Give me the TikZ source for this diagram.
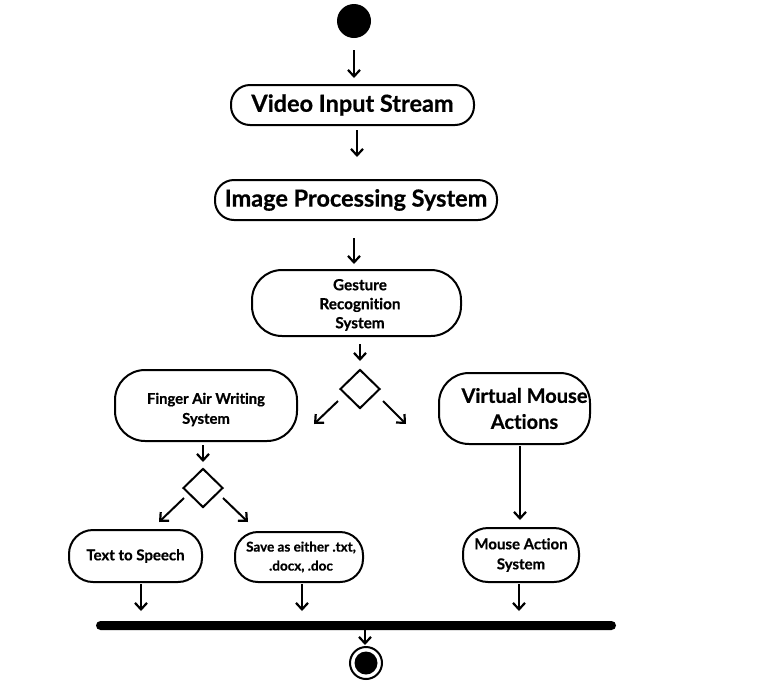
\documentclass[tikz,border=0pt]{standalone}
\usepackage{fontspec}
\setmainfont[Ligatures={NoCommon},BoldFeatures={FakeBold=0.6}]{Lato}
\usetikzlibrary{arrows.meta,shapes.geometric}
\tikzset{
  box/.style={draw, line width=2pt, align=center, inner sep=0pt, outer sep=0pt, font=\bfseries},
  arr/.style={line width=2pt, -{Straight Barb[length=6.5pt,width=12pt,line width=2.2pt]}},
  decision/.style={draw, line width=2pt, diamond, minimum width=40pt, minimum height=39pt, inner sep=0pt},
}
\begin{document}
\begin{tikzpicture}[x=1pt,y=-1pt]
\useasboundingbox (0,0) rectangle (772,681);
% start
\node[circle, fill=black, minimum size=34pt, inner sep=0pt] (start) at (354,21) {};
% boxes
\node[box, minimum width=243pt, minimum height=40pt, rounded corners=19pt, font=\bfseries\fontsize{23.5}{25}\selectfont] (video) at (352.5,105) {Video Input Stream};
\node[box, minimum width=282pt, minimum height=40pt, rounded corners=19pt, font=\bfseries\fontsize{23.5}{25}\selectfont] (image) at (356,200) {Image Processing System};
\node[box, minimum width=209pt, minimum height=66pt, rounded corners=30pt, font=\bfseries\fontsize{15.3}{19}\selectfont] (gesture) at (356.5,303) {\hspace*{7pt}\rule{0pt}{15pt}Gesture\\\hspace*{7pt}Recognition\\\hspace*{7pt}System};
\node[decision] (d1) at (360,389) {};
\node[box, minimum width=182pt, minimum height=71pt, rounded corners=30pt, font=\bfseries\fontsize{14.8}{20}\selectfont] (finger) at (206,405.5) {\rule{0pt}{19pt}Finger Air Writing\\System};
\node[box, minimum width=151pt, minimum height=71pt, rounded corners=30pt, font=\bfseries\fontsize{20}{26}\selectfont] (vmouse) at (514.5,408.5) {\hspace*{20pt}Virtual Mouse\\\hspace*{20pt}Actions};
\node[decision] (d2) at (203,488) {};
\node[box, minimum width=133pt, minimum height=52pt, rounded corners=24pt, font=\bfseries\fontsize{15}{19}\selectfont] (tts) at (135.5,556) {Text to Speech};
\node[box, minimum width=128pt, minimum height=50pt, rounded corners=23pt, font=\bfseries\fontsize{13.5}{19}\selectfont] (save) at (299,557) {\hspace*{4pt}Save as either .txt,\\\hspace*{4pt}.docx, .doc};
\node[box, minimum width=116pt, minimum height=54pt, rounded corners=25pt, font=\bfseries\fontsize{15}{20}\selectfont] (mas) at (521,555) {Mouse Action\\System};
% join bar
\node[fill=black, rounded corners=4.5pt, minimum width=520pt, minimum height=9pt, inner sep=0pt] (bar) at (356,625.5) {};
% end
\node[circle, draw, line width=2pt, minimum size=32pt, inner sep=0pt] (end) at (366,663) {};
\node[circle, fill=black, minimum size=23pt, inner sep=0pt] (endin) at (end.center) {};
% arrow coordinates
\coordinate (a1s) at (354,50); \coordinate (a1e) at (354,78);
\coordinate (a2s) at (357,130); \coordinate (a2e) at (357,157);
\coordinate (a3s) at (354,238); \coordinate (a3e) at (354,264);
\coordinate (a4s) at (360,344); \coordinate (a4e) at (360,361);
\coordinate (a5s) at (338,401); \coordinate (a5e) at (314,424);
\coordinate (a6s) at (383,401); \coordinate (a6e) at (406,424);
\coordinate (a7s) at (203,445); \coordinate (a7e) at (203,462);
\coordinate (a8s) at (184,498); \coordinate (a8e) at (159,522);
\coordinate (a9s) at (223,498); \coordinate (a9e) at (248,522);
\coordinate (a10s) at (520,446); \coordinate (a10e) at (520,520);
\coordinate (a11s) at (141,584); \coordinate (a11e) at (141,611);
\coordinate (a12s) at (302,584); \coordinate (a12e) at (302,611);
\coordinate (a13s) at (519,584); \coordinate (a13e) at (519,611);
\coordinate (a14s) at (365,630); \coordinate (a14e) at (365,645);
\foreach \i in {1,...,14} \draw[arr] (a\i s) -- (a\i e);
\end{tikzpicture}
\end{document}
